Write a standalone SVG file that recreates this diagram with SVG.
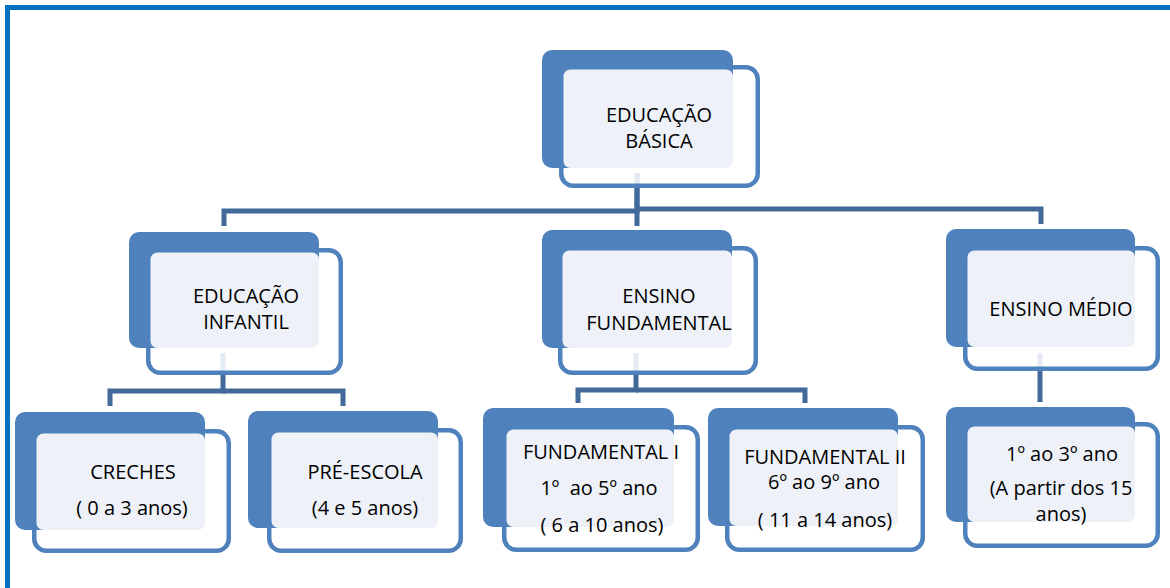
<svg xmlns="http://www.w3.org/2000/svg" width="1170" height="588" viewBox="0 0 1170 588">
<style>
.back{fill:#4F81BD}
.front{fill:#FFFFFF;fill-opacity:0.86;stroke:#4F81BD;stroke-width:4.5}
.lite{fill:#EEF2F8}
.t{font-family:"Open Sans","Noto Sans",sans-serif;font-size:20px;fill:#000;text-anchor:middle;white-space:pre}
.c{fill:none;stroke:#41699A;stroke-width:5}
</style>
<rect x="0" y="0" width="1170" height="588" fill="#FFFFFF"/>
<g id="frame" fill="#0070C0">
<rect x="5" y="5" width="1165" height="5"/>
<rect x="5" y="5" width="5" height="583"/>
</g>
<g id="connectors">
<path class="c" d="M637 173 V211 H224 V226"/>
<path class="c" d="M637 173 V209 H1041 V224"/>
<path class="c" d="M637 209 V226"/>
<path class="c" d="M223 353 V391 H110 V406"/>
<path class="c" d="M223 391 H343 V406"/>
<path class="c" d="M636 353 V390 H578 V403"/>
<path class="c" d="M636 390 H805 V403"/>
<path class="c" d="M1040 353 V402"/>
</g>
<g id="educacao-basica">
<rect class="front" x="561.25" y="67.25" width="196.5" height="118.5" rx="12"/>
<rect class="back" x="542" y="50" width="191" height="118" rx="10"/>
<rect class="lite" x="563.5" y="69.5" width="169.5" height="98.5" rx="7"/>
<text class="t" x="659" y="122">EDUCAÇÃO</text>
<text class="t" x="659" y="148">BÁSICA</text>
</g>
<g id="educacao-infantil">
<rect class="front" x="148.25" y="250.25" width="192.5" height="122.5" rx="12"/>
<rect class="back" x="129" y="232" width="190" height="116" rx="10"/>
<rect class="lite" x="150.5" y="252.5" width="168.5" height="95.5" rx="7"/>
<text class="t" x="246" y="303">EDUCAÇÃO</text>
<text class="t" x="246" y="329">INFANTIL</text>
</g>
<g id="ensino-fundamental">
<rect class="front" x="560.25" y="248.25" width="195.5" height="124.5" rx="12"/>
<rect class="back" x="542" y="230" width="190" height="118" rx="10"/>
<rect class="lite" x="562.5" y="250.5" width="169.5" height="97.5" rx="7"/>
<text class="t" x="659" y="303">ENSINO</text>
<text class="t" x="659" y="330">FUNDAMENTAL</text>
</g>
<g id="ensino-medio">
<rect class="front" x="965.25" y="248.25" width="192.5" height="120.5" rx="12"/>
<rect class="back" x="946" y="229" width="189" height="118" rx="10"/>
<rect class="lite" x="967.5" y="250.5" width="167.5" height="96.5" rx="7"/>
<text class="t" x="1061" y="316">ENSINO MÉDIO</text>
</g>
<g id="creches">
<rect class="front" x="34.25" y="431.25" width="194.5" height="119.5" rx="12"/>
<rect class="back" x="15" y="412" width="190" height="118" rx="10"/>
<rect class="lite" x="36.5" y="433.5" width="168.5" height="96.5" rx="7"/>
<text class="t" x="133" y="479">CRECHES</text>
<text class="t" x="132" y="515">( 0 a 3 anos)</text>
</g>
<g id="pre-escola">
<rect class="front" x="269.25" y="430.25" width="191.5" height="120.5" rx="12"/>
<rect class="back" x="248" y="411" width="190" height="117" rx="10"/>
<rect class="lite" x="271.5" y="432.5" width="166.5" height="95.5" rx="7"/>
<text class="t" x="365" y="479">PRÉ-ESCOLA</text>
<text class="t" x="365" y="515">(4 e 5 anos)</text>
</g>
<g id="fundamental-i">
<rect class="front" x="504.25" y="427.25" width="193.5" height="122.5" rx="12"/>
<rect class="back" x="483" y="408" width="191" height="119" rx="10"/>
<rect class="lite" x="506.5" y="429.5" width="167.5" height="97.5" rx="7"/>
<text class="t" x="601" y="459">FUNDAMENTAL I</text>
<text class="t" x="599" y="495">1º  ao 5º ano</text>
<text class="t" x="602" y="532">( 6 a 10 anos)</text>
</g>
<g id="fundamental-ii">
<rect class="front" x="727.25" y="427.25" width="195.5" height="122.5" rx="12"/>
<rect class="back" x="708" y="408" width="190" height="118" rx="10"/>
<rect class="lite" x="729.5" y="429.5" width="168.5" height="96.5" rx="7"/>
<text class="t" x="825" y="464">FUNDAMENTAL II</text>
<text class="t" x="824" y="489">6º ao 9º ano</text>
<text class="t" x="825" y="527">( 11 a 14 anos)</text>
</g>
<g id="medio-anos">
<rect class="front" x="965.25" y="424.25" width="192.5" height="121.5" rx="12"/>
<rect class="back" x="946" y="407" width="189" height="115" rx="10"/>
<rect class="lite" x="967.5" y="426.5" width="167.5" height="95.5" rx="7"/>
<text class="t" x="1062" y="461">1º ao 3º ano</text>
<text class="t" x="1061" y="495">(A partir dos 15</text>
<text class="t" x="1061" y="521">anos)</text>
</g>
</svg>
